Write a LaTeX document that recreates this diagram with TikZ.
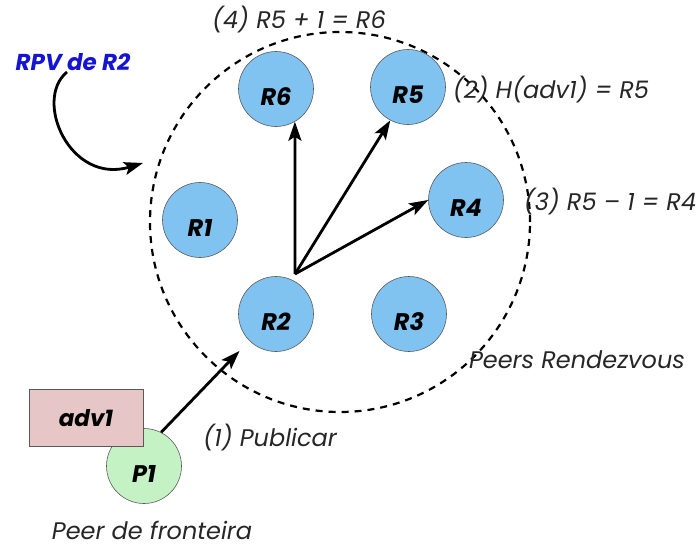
\documentclass[tikz,border=0pt]{standalone}
\usepackage{fontspec}
\setmainfont{Poppins}
\usetikzlibrary{arrows.meta,calc}
\definecolor{peerblue}{HTML}{80C2F0}
\definecolor{advpink}{HTML}{E6C6C6}
\definecolor{edgegreen}{HTML}{C4F2C4}
\definecolor{rpvblue}{HTML}{1414D2}
\tikzset{
  rdv/.style={circle, draw=black!65, line width=0.6pt, fill=peerblue,
    minimum size=75pt, inner sep=0pt,
    font=\fontsize{24}{24}\selectfont\bfseries\itshape,
    text height=33pt, text depth=0pt},
  edgepeer/.style={rdv, fill=edgegreen},
  advbox/.style={rectangle, draw=black!65, line width=0.6pt, fill=advpink,
    minimum width=114pt, minimum height=57pt, inner sep=0pt,
    font=\fontsize{23}{23}\selectfont\bfseries\itshape},
  lbl/.style={font=\fontsize{24}{24}\selectfont\itshape, text=black!85, inner sep=0pt},
  conn/.style={line width=2.8pt, -{Stealth[length=19pt,width=13pt,inset=4pt]}},
  ringstyle/.style={circle, draw, line width=2.2pt, dash pattern=on 7pt off 6pt,
    minimum size=380pt, inner sep=0pt}
}
\begin{document}
\begin{tikzpicture}[x=1pt,y=-1pt]
\useasboundingbox (0,0) rectangle (697,547);

% rendezvous group boundary
\node[ringstyle] (ring) at (340,222) {};

% rendezvous peers
\node[rdv] (R6) at (276,89) {R6};
\node[rdv] (R5) at (408,87) {R5};
\node[rdv] (R4) at (466,200) {R4};
\node[rdv] (R1) at (200,220) {R1};
\node[rdv] (R2) at (276,314) {R2};
\node[rdv] (R3) at (409,314) {R3};

% edge peer with its advertisement
\node[edgepeer] (P1) at (144,466) {P1};
\node[advbox] (adv) at (86,418) {adv1};

% labels
\node[lbl, text=rpvblue, font=\fontsize{23}{23}\selectfont\bfseries\itshape] (rpv) at (73,62) {RPV de R2};
\node[lbl] (step4) at (299,20) {(4) R5 + 1 = R6};
\node[lbl] (step2) at (551,90) {(2) H(adv1) = R5};
\node[lbl] (step3) at (610,202) {(3) R5 – 1 = R4};
\node[lbl] (peers) at (577,360) {Peers Rendezvous};
\node[lbl] (step1) at (270,438) {(1) Publicar};
\node[lbl] (edgelbl) at (152,530) {Peer de fronteira};

% arrows
\coordinate (hub) at ($(R2)+(19,-40)$);
\coordinate (rpvtip) at (143,163);
\draw[conn] (hub) -- (R6.-60);
\draw[conn] (hub) -- (R5.-118);
\draw[conn] (hub) -- (R4.west);
\draw[conn, shorten >=14pt] (P1.63) -- (R2.225);
\draw[conn] (67,72) .. controls (33,100) and (70,185) .. (rpvtip);
\end{tikzpicture}
\end{document}
